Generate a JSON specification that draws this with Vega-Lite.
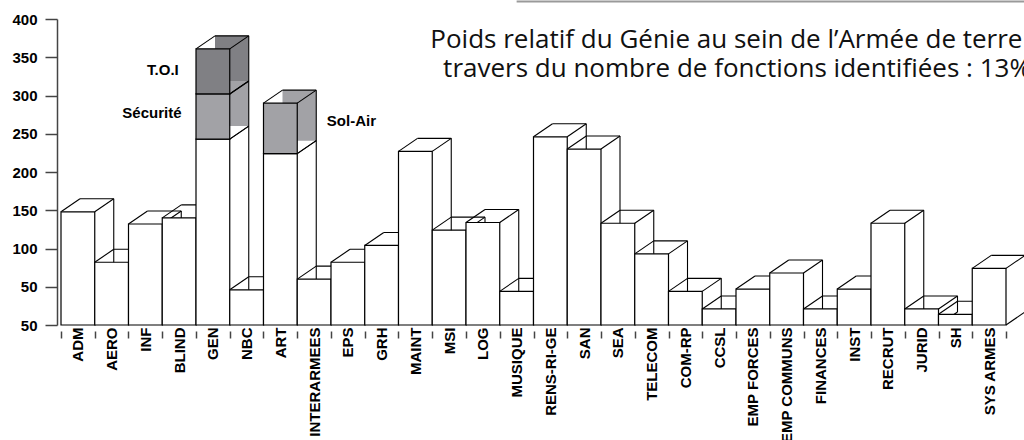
{
  "$schema": "https://vega.github.io/schema/vega-lite/v6.json",
  "width": 953,
  "height": 306,
  "autosize": {"type": "none"},
  "padding": {"left": 57, "top": 19, "right": 14, "bottom": 115},
  "background": "white",
  "config": {"view": {"stroke": null}},
  "title": {
    "text": ["Poids relatif du Génie au sein de l’Armée de terre à", "travers du nombre de fonctions identifiées : 13%"],
    "font": "Open Sans",
    "fontSize": 26,
    "fontWeight": "normal",
    "color": "#111111",
    "anchor": "start",
    "align": "center",
    "frame": "group",
    "dx": 680,
    "dy": 86,
    "lineHeight": 29
  },
  "datasets": {
    "bars": [
      {"cat": "ADM", "part": "base", "lo": 0, "hi": 148},
      {"cat": "AERO", "part": "base", "lo": 0, "hi": 82},
      {"cat": "INF", "part": "base", "lo": 0, "hi": 132},
      {"cat": "BLIND", "part": "base", "lo": 0, "hi": 140},
      {"cat": "GEN", "part": "base", "lo": 0, "hi": 243},
      {"cat": "GEN", "part": "Sécurité", "lo": 243, "hi": 302},
      {"cat": "GEN", "part": "T.O.I", "lo": 302, "hi": 361},
      {"cat": "NBC", "part": "base", "lo": 0, "hi": 46},
      {"cat": "ART", "part": "base", "lo": 0, "hi": 224},
      {"cat": "ART", "part": "Sol-Air", "lo": 224, "hi": 290},
      {"cat": "INTERARMEES", "part": "base", "lo": 0, "hi": 60},
      {"cat": "EPS", "part": "base", "lo": 0, "hi": 82},
      {"cat": "GRH", "part": "base", "lo": 0, "hi": 104},
      {"cat": "MAINT", "part": "base", "lo": 0, "hi": 227},
      {"cat": "MSI", "part": "base", "lo": 0, "hi": 124},
      {"cat": "LOG", "part": "base", "lo": 0, "hi": 134},
      {"cat": "MUSIQUE", "part": "base", "lo": 0, "hi": 44},
      {"cat": "RENS-RI-GE", "part": "base", "lo": 0, "hi": 246},
      {"cat": "SAN", "part": "base", "lo": 0, "hi": 230},
      {"cat": "SEA", "part": "base", "lo": 0, "hi": 133},
      {"cat": "TELECOM", "part": "base", "lo": 0, "hi": 93},
      {"cat": "COM-RP", "part": "base", "lo": 0, "hi": 44},
      {"cat": "CCSL", "part": "base", "lo": 0, "hi": 21},
      {"cat": "EMP FORCES", "part": "base", "lo": 0, "hi": 47},
      {"cat": "EMP COMMUNS", "part": "base", "lo": 0, "hi": 68},
      {"cat": "FINANCES", "part": "base", "lo": 0, "hi": 21},
      {"cat": "INST", "part": "base", "lo": 0, "hi": 47},
      {"cat": "RECRUT", "part": "base", "lo": 0, "hi": 133},
      {"cat": "JURID", "part": "base", "lo": 0, "hi": 21},
      {"cat": "SH", "part": "base", "lo": 0, "hi": 14},
      {"cat": "SYS ARMES", "part": "base", "lo": 0, "hi": 74}
    ],
    "notes": [
      {"cat": "GEN", "label": "T.O.I", "v": 333},
      {"cat": "GEN", "label": "Sécurité", "v": 277},
      {"cat": "ART", "label": "Sol-Air", "v": 267}
    ],
    "frame": [
      {"from": "MUSIQUE", "to": "SYS ARMES", "v": 423}
    ]
  },
  "encoding": {
    "x": {
      "field": "cat",
      "type": "nominal",
      "sort": null,
      "scale": {"paddingInner": 0, "paddingOuter": 0.1185},
      "axis": {
        "title": null,
        "domain": false,
        "offset": 6,
        "tickSize": 7,
        "tickColor": "#444444",
        "tickWidth": 1.5,
        "tickBand": "extent",
        "tickOffset": -3,
        "labelAngle": 270,
        "labelAlign": "right",
        "labelBaseline": "middle",
        "labelPadding": -11,
        "labelFont": "Liberation Sans",
        "labelFontWeight": "bold",
        "labelFontSize": 15,
        "labelColor": "#000000",
        "labelLimit": 300
      }
    },
    "y": {
      "type": "quantitative",
      "scale": {"domain": [0, 400], "nice": false, "zero": true},
      "axis": {
        "title": null,
        "values": [0, 50, 100, 150, 200, 250, 300, 350, 400],
        "labelExpr": "datum.value == 0 ? '50' : datum.label",
        "grid": false,
        "domainColor": "#444444",
        "domainWidth": 1.5,
        "tickColor": "#444444",
        "tickWidth": 1.5,
        "tickSize": 12,
        "labelPadding": 8,
        "labelFont": "Liberation Sans",
        "labelFontWeight": "bold",
        "labelFontSize": 15,
        "labelColor": "#000000"
      }
    }
  },
  "layer": [
    {
      "data": {"name": "bars"},
      "mark": {"type": "bar", "xOffset": 19, "yOffset": -13, "y2Offset": -13, "strokeWidth": 0},
      "encoding": {
        "y": {"field": "hi"},
        "y2": {"field": "lo"},
        "fill": {
          "field": "part",
          "type": "nominal",
          "scale": {"domain": ["base", "Sécurité", "T.O.I", "Sol-Air"], "range": ["#ffffff", "#a2a2a6", "#808084", "#a2a2a6"]},
          "legend": null
        }
      }
    },
    {
      "data": {"name": "bars"},
      "mark": {"type": "rule", "color": "#000000", "strokeWidth": 1.1, "xOffset": 19, "x2Offset": 19, "yOffset": -13},
      "encoding": {
        "x": {"field": "cat", "type": "nominal", "sort": null, "bandPosition": 0},
        "x2": {"field": "cat", "bandPosition": 1},
        "y": {"field": "hi", "aggregate": "max"}
      }
    },
    {
      "data": {"name": "bars"},
      "mark": {"type": "rule", "color": "#000000", "strokeWidth": 1.1, "xOffset": 19, "yOffset": -13, "y2Offset": -13},
      "encoding": {
        "x": {"field": "cat", "type": "nominal", "sort": null, "bandPosition": 1},
        "y": {"field": "hi", "aggregate": "max"},
        "y2": {"field": "lo", "aggregate": "min"}
      }
    },
    {
      "data": {"name": "bars"},
      "mark": {"type": "rule", "color": "#000000", "strokeWidth": 1.1, "x2Offset": 19, "y2Offset": -13},
      "encoding": {
        "x": {"field": "cat", "type": "nominal", "sort": null, "bandPosition": 0},
        "x2": {"field": "cat", "bandPosition": 0},
        "y": {"field": "hi", "aggregate": "max"},
        "y2": {"field": "hi", "aggregate": "max"}
      }
    },
    {
      "data": {"name": "bars"},
      "mark": {"type": "rule", "color": "#000000", "strokeWidth": 1.1, "x2Offset": 19, "y2Offset": -13},
      "encoding": {
        "x": {"field": "cat", "type": "nominal", "sort": null, "bandPosition": 1},
        "x2": {"field": "cat", "bandPosition": 1},
        "y": {"field": "hi"},
        "y2": {"field": "hi"}
      }
    },
    {
      "data": {"name": "bars"},
      "mark": {"type": "rule", "color": "#000000", "strokeWidth": 1.1, "x2Offset": 19, "y2Offset": -13},
      "encoding": {
        "x": {"field": "cat", "type": "nominal", "sort": null, "bandPosition": 1},
        "x2": {"field": "cat", "bandPosition": 1},
        "y": {"field": "lo"},
        "y2": {"field": "lo"}
      }
    },
    {
      "data": {"name": "bars"},
      "mark": {"type": "bar", "stroke": "#000000", "strokeWidth": 1.2},
      "encoding": {
        "y": {"field": "hi"},
        "y2": {"field": "lo"},
        "fill": {"field": "part", "type": "nominal", "legend": null}
      }
    },
    {
      "data": {"name": "notes"},
      "transform": [{"filter": "datum.label == 'T.O.I'"}],
      "mark": {"type": "text", "font": "Liberation Sans", "fontWeight": "bold", "fontSize": 15, "color": "#000000", "dx": -50, "baseline": "middle"},
      "encoding": {"y": {"field": "v"}, "text": {"field": "label"}}
    },
    {
      "data": {"name": "notes"},
      "transform": [{"filter": "datum.label == 'Sécurité'"}],
      "mark": {"type": "text", "font": "Liberation Sans", "fontWeight": "bold", "fontSize": 15, "color": "#000000", "dx": -61, "baseline": "middle"},
      "encoding": {"y": {"field": "v"}, "text": {"field": "label"}}
    },
    {
      "data": {"name": "notes"},
      "transform": [{"filter": "datum.label == 'Sol-Air'"}],
      "mark": {"type": "text", "font": "Liberation Sans", "fontWeight": "bold", "fontSize": 15, "color": "#000000", "dx": 71, "baseline": "middle"},
      "encoding": {"y": {"field": "v"}, "text": {"field": "label"}}
    },
    {
      "data": {"name": "frame"},
      "mark": {"type": "rule", "color": "#9a9a9a", "strokeWidth": 2, "x2Offset": 40},
      "encoding": {
        "x": {"field": "from", "type": "nominal"},
        "x2": {"field": "to"},
        "y": {"field": "v"}
      }
    }
  ]
}
